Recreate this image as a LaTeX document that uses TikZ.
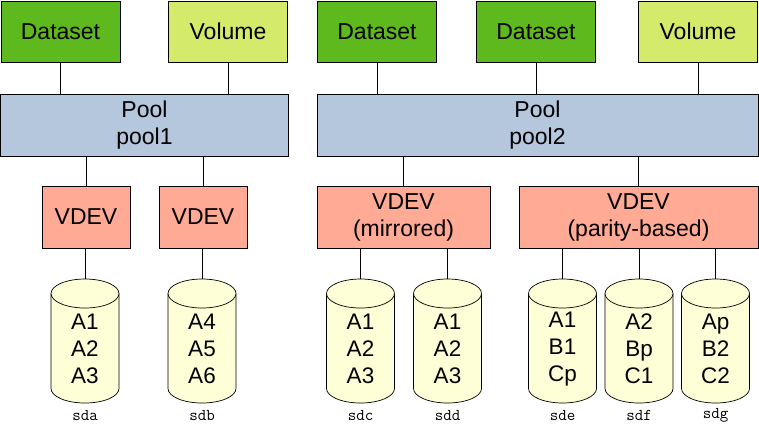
\documentclass[tikz,border=0pt]{standalone}
\usepackage{fontspec}
\setmainfont{Liberation Sans}
\usetikzlibrary{calc}
\definecolor{dsgreen}{HTML}{5EB91E}
\definecolor{volgreen}{HTML}{D4EA6B}
\definecolor{poolblue}{HTML}{B4C7DC}
\definecolor{vdevred}{HTML}{FFAA95}
\definecolor{diskfill}{HTML}{FFFFD7}
\newcommand\drawcyl[1]{%
  \filldraw[cylline] (#1-34,-293.5) -- (#1-34,-388.5)
    arc[start angle=180,end angle=360,x radius=34,y radius=14.5]
    -- (#1+34,-293.5)
    arc[start angle=0,end angle=180,x radius=34,y radius=14.5] -- cycle;
  \draw[cylline] (#1-34,-293.5)
    arc[start angle=180,end angle=360,x radius=34,y radius=14.5];}
\begin{document}
\begin{tikzpicture}[x=1pt,y=1pt,
  box/.style={draw=black, line width=0.9pt, inner sep=0pt, align=center,
    font=\fontsize{23}{27}\selectfont},
  dsbox/.style={box, fill=dsgreen, minimum width=119pt, minimum height=61pt},
  volbox/.style={box, fill=volgreen, minimum width=119pt, minimum height=61pt},
  poolbox/.style={box, fill=poolblue, minimum height=62pt},
  vdevbox/.style={box, fill=vdevred, minimum height=62pt},
  cylline/.style={draw=black, line width=0.7pt, fill=diskfill},
  disktext/.style={inner sep=0pt, align=center, font=\fontsize{22.5}{27}\selectfont},
  disklab/.style={inner sep=0pt, font=\ttfamily\fontsize{16.5}{16}\selectfont},
  conn/.style={draw=black, line width=0.8pt}]
\useasboundingbox (0,0) rectangle (759,-429);
% top row
\node[dsbox]  (ds1)  at (60.5,-31.5) {Dataset};
\node[volbox] (vol1) at (228,-31.5) {Volume};
\node[dsbox]  (ds2)  at (377,-31.5) {Dataset};
\node[dsbox]  (ds3)  at (536,-31.5) {Dataset};
\node[volbox] (vol2) at (698,-31.5) {Volume};
% pools
\node[poolbox, minimum width=287.5pt] (pool1) at (144.5,-125) {Pool\\pool1};
\node[poolbox, minimum width=441pt] (pool2) at (537.5,-125) {Pool\\pool2};
% vdevs
\node[vdevbox, minimum width=88pt] (vdev1) at (86,-217) {VDEV};
\node[vdevbox, minimum width=88pt] (vdev2) at (203,-217) {VDEV};
\node[vdevbox, minimum width=173pt] (vdev3) at (403.5,-217) {VDEV\\(mirrored)};
\node[vdevbox, minimum width=239pt] (vdev4) at (638.5,-217) {VDEV\\(parity-based)};
% disks
\drawcyl{85}
\drawcyl{202}
\drawcyl{360.5}
\drawcyl{447.5}
\drawcyl{562.5}
\drawcyl{639}
\drawcyl{715.5}
\coordinate (sda) at (85,-279);
\coordinate (sdb) at (202,-279);
\coordinate (sdc) at (360.5,-279);
\coordinate (sdd) at (447.5,-279);
\coordinate (sde) at (562.5,-279);
\coordinate (sdf) at (639,-279);
\coordinate (sdg) at (715.5,-279);
\node[disktext] (ta) at (85,-349) {A1\\A2\\A3};
\node[disktext] (tb) at (202,-349) {A4\\A5\\A6};
\node[disktext] (tc) at (360.5,-349) {A1\\A2\\A3};
\node[disktext] (td) at (447.5,-349) {A1\\A2\\A3};
\node[disktext] (te) at (562.5,-349) {A1\\B1\\Cp};
\node[disktext] (tf) at (639,-349) {A2\\Bp\\C1};
\node[disktext] (tg) at (715.5,-349) {Ap\\B2\\C2};
\node[disklab] (la) at (85,-415) {sda};
\node[disklab] (lb) at (202,-415) {sdb};
\node[disklab] (lc) at (360.5,-415) {sdc};
\node[disklab] (ld) at (447.5,-415) {sdd};
\node[disklab] (le) at (562.5,-415) {sde};
\node[disklab] (lf) at (639,-415) {sdf};
\node[disklab] (lg) at (715.5,-415) {sdg};
% connectors top
\draw[conn] (ds1.south) -- (ds1.south |- pool1.north);
\draw[conn] (vol1.south) -- (vol1.south |- pool1.north);
\draw[conn] (ds2.south) -- (ds2.south |- pool2.north);
\draw[conn] (ds3.south) -- (ds3.south |- pool2.north);
\draw[conn] (vol2.south) -- (vol2.south |- pool2.north);
% pool to vdev
\draw[conn] (vdev1.north |- pool1.south) -- (vdev1.north);
\draw[conn] (vdev2.north |- pool1.south) -- (vdev2.north);
\draw[conn] (vdev3.north |- pool2.south) -- (vdev3.north);
\draw[conn] (vdev4.north |- pool2.south) -- (vdev4.north);
% vdev to disks
\draw[conn] (sda |- vdev1.south) -- (sda);
\draw[conn] (sdb |- vdev2.south) -- (sdb);
\draw[conn] (sdc |- vdev3.south) -- (sdc);
\draw[conn] (sdd |- vdev3.south) -- (sdd);
\draw[conn] (sde |- vdev4.south) -- (sde);
\draw[conn] (sdf |- vdev4.south) -- (sdf);
\draw[conn] (sdg |- vdev4.south) -- (sdg);
\end{tikzpicture}
\end{document}
